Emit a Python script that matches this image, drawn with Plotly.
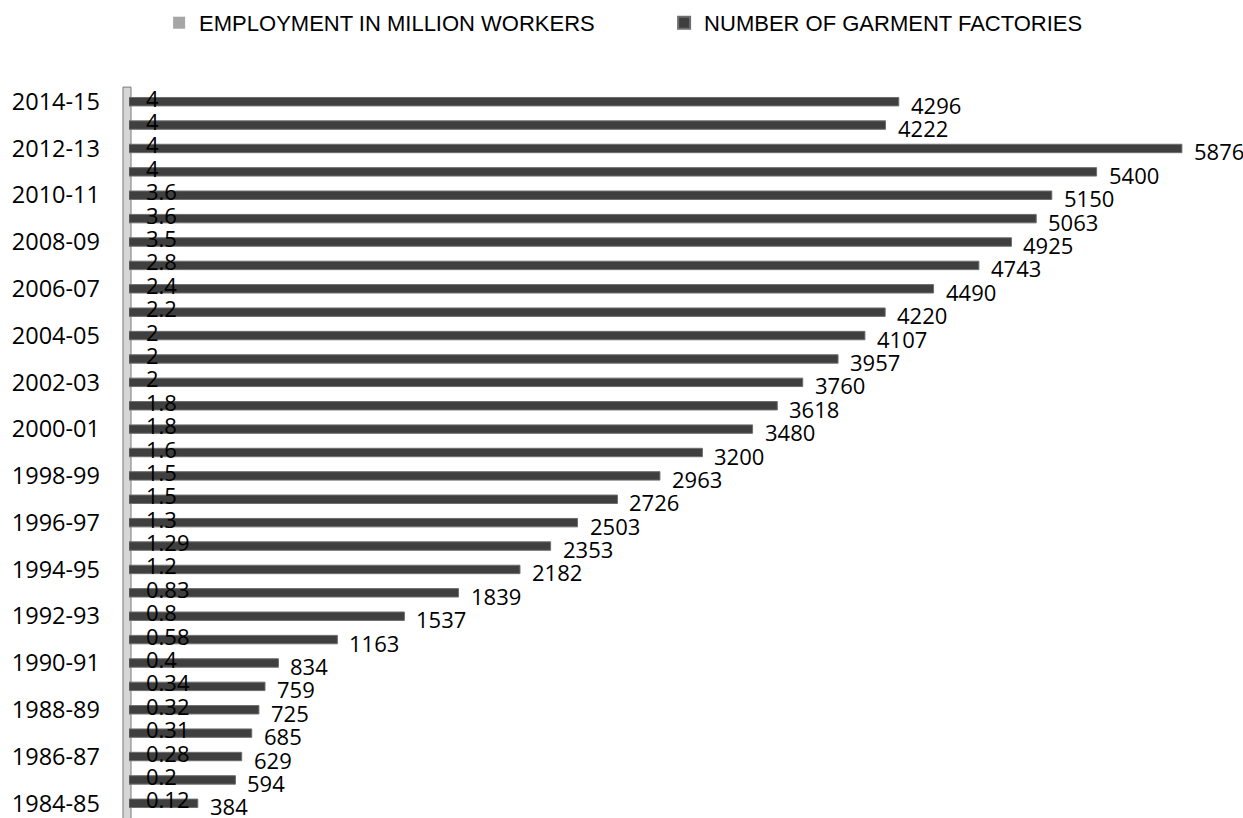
import plotly.graph_objects as go

years = [
    "1984-85", "1985-86", "1986-87", "1987-88", "1988-89", "1989-90",
    "1990-91", "1991-92", "1992-93", "1993-94", "1994-95", "1995-96",
    "1996-97", "1997-98", "1998-99", "1999-00", "2000-01", "2001-02",
    "2002-03", "2003-04", "2004-05", "2005-06", "2006-07", "2007-08",
    "2008-09", "2009-10", "2010-11", "2011-12", "2012-13", "2013-14",
    "2014-15",
]
employment = [
    0.12, 0.2, 0.28, 0.31, 0.32, 0.34, 0.4, 0.58, 0.8, 0.83, 1.2, 1.29,
    1.3, 1.5, 1.5, 1.6, 1.8, 1.8, 2, 2, 2, 2.2, 2.4, 2.8, 3.5, 3.6, 3.6,
    4, 4, 4, 4,
]
factories = [
    384, 594, 629, 685, 725, 759, 834, 1163, 1537, 1839, 2182, 2353,
    2503, 2726, 2963, 3200, 3480, 3618, 3760, 3957, 4107, 4220, 4490,
    4743, 4925, 5063, 5150, 5400, 5876, 4222, 4296,
]
shown_years = years[::2]

label_font = dict(family="Open Sans, Liberation Sans, sans-serif", size=22, color="#000000")
tick_font = dict(family="Open Sans, Liberation Sans, sans-serif", size=23.5, color="#000000")
legend_font = dict(family="Liberation Sans, sans-serif", size=22, color="#000000")

fig = go.Figure()
fig.add_trace(go.Bar(
    name="EMPLOYMENT IN MILLION WORKERS",
    y=years, x=employment, orientation="h",
    marker=dict(color="#a6a6a6", line=dict(color="#a6a6a6", width=0)),
    width=0.36,
))
fig.add_trace(go.Bar(
    name="NUMBER OF GARMENT FACTORIES",
    y=years, x=factories, orientation="h",
    marker=dict(color="#3f3f3f", line=dict(color="#6e6e6e", width=1)),
    width=0.36,
))

annotations = []
for yr, e, f in zip(years, employment, factories):
    annotations.append(dict(
        x=f, y=yr, xref="x", yref="y", text=str(f), showarrow=False,
        xanchor="left", yanchor="middle", xshift=10, yshift=-3, font=label_font,
    ))
    annotations.append(dict(
        x=0, y=yr, xref="x", yref="y", text=str(e), showarrow=False,
        xanchor="left", yanchor="middle", xshift=15, yshift=4, font=label_font,
    ))

fig.update_layout(
    width=1243, height=818,
    margin=dict(l=129, r=0, t=90, b=0),
    paper_bgcolor="#ffffff", plot_bgcolor="#ffffff",
    barmode="overlay",
    showlegend=True,
    legend=dict(
        orientation="h", xref="container", yref="container",
        x=0.128, y=0.972, xanchor="left", yanchor="middle",
        font=legend_font, entrywidth=460, entrywidthmode="pixels",
        itemsizing="constant", traceorder="normal",
    ),
    xaxis=dict(range=[0, 6217], visible=False, fixedrange=True),
    yaxis=dict(
        type="category",
        categoryorder="array", categoryarray=years,
        range=[-0.5, 30.5],
        tickmode="array", tickvals=shown_years, ticktext=shown_years,
        tickfont=tick_font, ticks="", showgrid=False, zeroline=False,
        showline=False, ticklabelstandoff=28,
    ),
    annotations=annotations,
    shapes=[
        dict(type="rect", xref="paper", yref="paper",
             x0=-0.0054, x1=0.0018, y0=-0.01, y1=1.004,
             fillcolor="#d6d6d6", line=dict(color="#7a7a7a", width=1), layer="below"),
    ],
)

fig.write_html("out.html")
